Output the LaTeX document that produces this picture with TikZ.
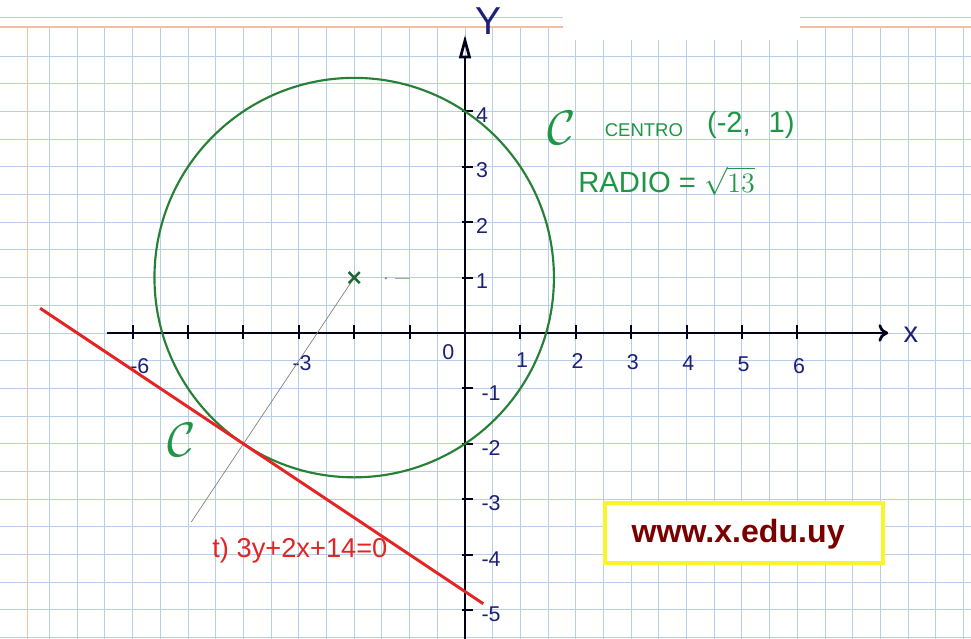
\documentclass[tikz,border=0pt]{standalone}
\usepackage{fontspec}
\setsansfont{Liberation Sans}
\usepackage{amsmath,amssymb}
\usepackage{xcolor}
\usetikzlibrary{arrows.meta,calc}

\definecolor{gridblue}{RGB}{182,206,232}
\definecolor{marginred}{RGB}{242,190,160}
\definecolor{navy}{RGB}{28,32,120}
\definecolor{circgreen}{RGB}{40,128,55}
\definecolor{textgreen}{RGB}{30,150,70}
\definecolor{tred}{RGB}{228,36,36}
\definecolor{webred}{RGB}{122,0,0}
\definecolor{boxyellow}{RGB}{250,244,40}

\begin{document}
\begin{tikzpicture}[
  axisline/.style={line width=1.4pt,color=black!90!blue},
  axtick/.style={line width=1.1pt,color=black!90!blue},
  num/.style={text=navy,font=\sffamily\fontsize{11}{11}\selectfont,inner sep=0pt},
  hand/.style={text=textgreen,inner sep=0pt}
]
\useasboundingbox (-8.394,-5.523) rectangle (9.134,6.011);
\fill[white] (-8.394,-5.523) rectangle (9.134,6.011);

% Squared paper
\foreach \x in {-7.5,-7,...,9} \draw[gridblue,line width=0.5pt] (\x,-5.6) -- (\x,5.5);
\foreach \y in {-5.5,-5,...,5} \draw[gridblue,line width=0.5pt] (-8.4,\y) -- (9.2,\y);
\draw[gridblue,line width=0.6pt] (-8.4,5.69) -- (9.2,5.69);
\draw[marginred,line width=0.8pt] (-8.4,5.52) -- (9.2,5.52);
\draw[marginred,line width=0.8pt] (-7.9,-5.6) -- (-7.9,5.52);
\fill[white] (1.77,5.29) rectangle (6.05,6.1);

% Axes
\coordinate (O) at (0,0);
\coordinate (xstart) at (-6.46,0);
\coordinate (xend) at (7.64,0);
\coordinate (ystart) at (0,-5.6);
\coordinate (yend) at (0,5.38);
\draw[axisline,-{To[length=5pt,width=9pt]}] (xstart) -- (xend);
\draw[axisline,-{Triangle[open,length=12pt,width=6pt]}] (ystart) -- (yend);
\node[text=navy,font=\sffamily\fontsize{15}{15}\selectfont,inner sep=0pt] (xlabel) at (8.05,-0.03) {x};
\node[text=navy,font=\sffamily\fontsize{20}{20}\selectfont,inner sep=0pt] (ylabel) at (0.42,5.63) {Y};

\foreach \x in {-6,...,-1,1,2,...,6} \draw[axtick] (\x,-0.1) -- (\x,0.14);
\foreach \y in {-5,...,-1,1,2,3,4} \draw[axtick] (-0.06,\y) -- (0.14,\y);

\foreach \x in {1,...,6} \node[num] (lx\x) at (\x+0.03,-0.47-0.02*\x) {\x};
\node[num] (lxm6) at (-5.87,-0.6) {-6};
\node[num] (lxm3) at (-2.94,-0.55) {-3};
\node[num] (lx0) at (-0.3,-0.35) {0};
\foreach \y in {1,...,4} \node[num] (ly\y) at (0.31,\y-0.06) {\y};
\foreach \y in {1,...,5} \node[num] (lym\y) at (0.47,-\y-0.08) {-\y};

% Circle and tangent
\coordinate (C) at (-2,1);
\coordinate (T) at (-4,-2);
\coordinate (nend) at ($(C)+1.47*(-2,-3)$);
\draw[circgreen,line width=1.1pt] (C) circle ({sqrt(13)});
\draw[gray,line width=0.35pt] (C) -- (T) -- (nend);
\draw[circgreen!80!black,line width=1.3pt] ($(C)+(-0.1,-0.1)$) -- ($(C)+(0.1,0.1)$)
  ($(C)+(-0.1,0.1)$) -- ($(C)+(0.1,-0.1)$);
\fill[gray] (-1.43,0.99) circle (0.6pt);
\draw[gray!70,line width=0.6pt] (-1.26,0.98) -- (-0.99,0.98);

\coordinate (ta) at (-7.67,0.447);
\coordinate (tb) at (0.33,-4.887);
\draw[tred,line width=1.5pt] (ta) -- (tb);

% Labels
\node[hand,font=\fontsize{28}{28}\selectfont] (cal1) at (-5.11,-1.93) {$\mathcal{C}$};
\node[hand,font=\fontsize{24}{24}\selectfont] (cal2) at (1.75,3.7) {$\mathcal{C}$};
\node[hand,font=\sffamily\fontsize{9.5}{9.5}\selectfont] (centro) at (3.23,3.66) {CENTRO};
\node[hand,font=\sffamily\fontsize{15}{15}\selectfont] (cpt) at (5.16,3.76) {(-2,\,\, 1)};
\node[hand,font=\sffamily\fontsize{15}{15}\selectfont] (radio) at (3.64,2.74) {RADIO = $\sqrt{13}$};
\node[text=tred,font=\sffamily\fontsize{14}{14}\selectfont,inner sep=0pt] (teq) at (-2.98,-3.92) {t) 3y+2x+14=0};

% Web box
\node[draw=boxyellow,line width=1.8pt,fill=white,minimum width=5.02cm,minimum height=1.08cm,inner sep=0pt] (web) at (5.04,-3.61) {};
\node[text=webred,font=\sffamily\bfseries\fontsize{16.5}{16.5}\selectfont,inner sep=0pt] (url) at (4.93,-3.63) {www.x.edu.uy};
\end{tikzpicture}
\end{document}
